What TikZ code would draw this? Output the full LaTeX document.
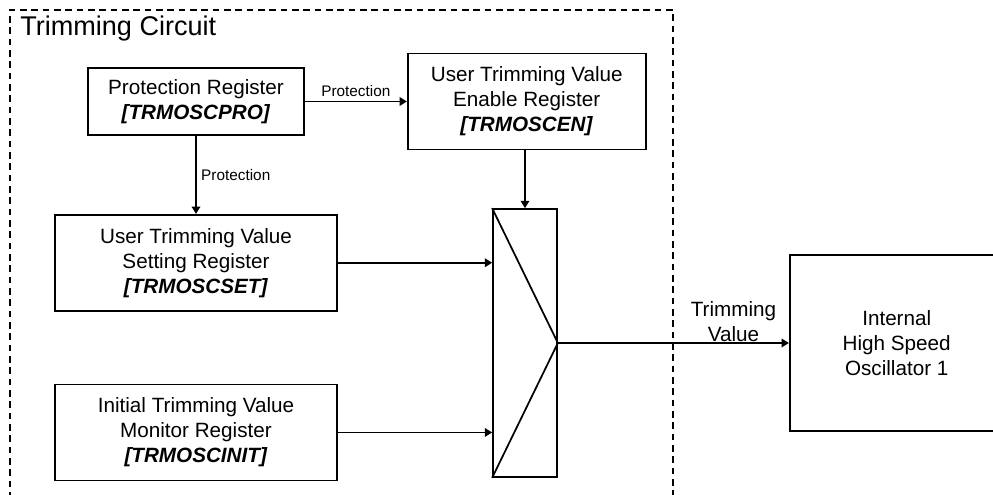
\documentclass[tikz,border=0pt]{standalone}
\usepackage{fontspec}
\setmainfont{Liberation Sans}
\usetikzlibrary{positioning,arrows.meta}
\newcommand{\regname}[1]{\textbf{\textit{[#1]}}}

\begin{document}
\begin{tikzpicture}[x=0.75pt, y=-0.75pt,
  box/.style={draw, line width=1.3pt, inner sep=0pt, align=center,
    font=\fontsize{15.5}{18.75}\selectfont},
  arr/.style={-{Triangle[length=5.5pt, width=6.5pt]}, line width=1.2pt},
  lbl/.style={font=\fontsize{11.5}{13}\selectfont},
  frame/.style={draw, line width=1.2pt, dash pattern=on 5pt off 3.5pt}]
  \useasboundingbox (0,0) rectangle (993,495);
  \clip (0,0) rectangle (993,495);
  % circuit boundary
  \draw[frame] (10,510) |- (673,10) -- (673,510);
  \node[anchor=base west, inner sep=0pt, font=\fontsize{20.3}{24}\selectfont]
    (title) at (20,36) {Trimming Circuit};
  \node[box, minimum width=162pt, minimum height=50.25pt] (pro) at (196,101.5)
    {Protection Register\\\regname{TRMOSCPRO}};
  \node[box, minimum width=178.5pt, minimum height=72pt, right=76.5pt of pro] (en)
    {User Trimming Value\\Enable Register\\\regname{TRMOSCEN}};
  \node[box, minimum width=211.5pt, minimum height=72pt, below=58.5pt of pro] (set)
    {User Trimming Value\\Setting Register\\\regname{TRMOSCSET}};
  \node[box, minimum width=211.5pt, minimum height=72pt, below=54pt of set] (init)
    {Initial Trimming Value\\Monitor Register\\\regname{TRMOSCINIT}};
  \node[box, minimum width=48pt, minimum height=201pt] (mux) at (525,343) {};
  \draw[line width=1.3pt] (mux.north west) -- (mux.east) -- (mux.south west);
  \node[box, minimum width=160.5pt, minimum height=132pt, right=173.25pt of mux] (osc)
    {Internal\\High Speed\\Oscillator 1};
  \draw[arr] (pro.east) -- node[lbl, above]{Protection} (pro.east -| en.west);
  \draw[arr] (pro) -- node[lbl, right]{Protection} (set);
  \draw[arr] (en.south -| mux.north) -- (mux.north);
  \draw[arr] (set) -- (set -| mux.west);
  \draw[arr] (init) -- (init -| mux.west);
  \draw[arr] (mux.east) -- node[pos=0.76, above, inner sep=0pt, align=center,
    font=\fontsize{15.5}{18.75}\selectfont]{Trimming\\Value} (osc.west);
\end{tikzpicture}
\end{document}
